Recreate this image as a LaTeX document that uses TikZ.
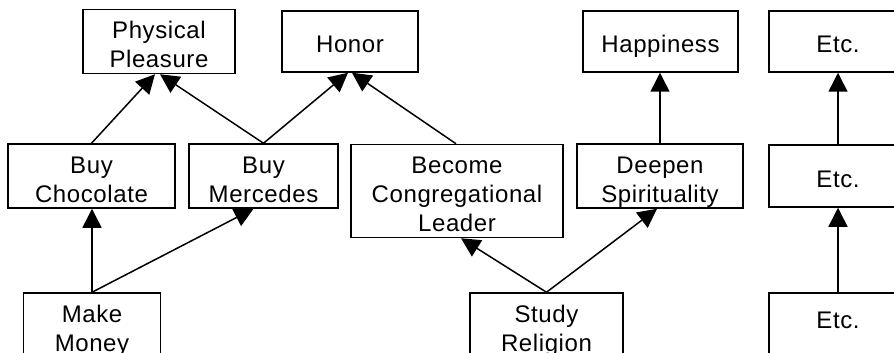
\documentclass[tikz,border=0pt]{standalone}
\usepackage{fontspec}
\setmainfont{Liberation Sans}[LetterSpace=2.5]
\usetikzlibrary{arrows.meta,calc}
\newcommand\tstrut{\rule{0pt}{14.5pt}}
\tikzset{
  goalbox/.style={draw=black, line width=0.75pt, inner sep=0pt, align=center,
    font=\fontsize{12pt}{14.5pt}\selectfont,
    execute at end node={\rule[-3pt]{0pt}{0pt}}},
  arr/.style={draw=black, line width=0.75pt, -{Triangle[length=9.5pt,width=9.5pt]}}
}
\begin{document}
\begin{tikzpicture}[x=0.5pt,y=-0.5pt]
\useasboundingbox (0,0) rectangle (894,353);
\clip (0,0) rectangle (894,353);
% top row
\node[goalbox, minimum width=76pt, minimum height=30.5pt] (PP) at (159,41.5) {\tstrut Physical\\Pleasure};
\node[goalbox, minimum width=68pt, minimum height=30.5pt] (HON) at (350,41.5) {\tstrut Honor};
\node[goalbox, minimum width=77.5pt, minimum height=30.5pt] (HAP) at (660.5,41.5) {\tstrut Happiness};
\node[goalbox, minimum width=69pt, minimum height=30.5pt] (ET) at (838,41.5) {\tstrut Etc.};
% middle row
\node[goalbox, minimum width=83.5pt, minimum height=31pt] (BC) at (91.5,176) {\tstrut Buy\\Chocolate};
\node[goalbox, minimum width=74.5pt, minimum height=31pt] (BM) at (263.5,176) {\tstrut Buy\\Mercedes};
\node[goalbox, minimum width=106pt, minimum height=46pt] (BCL) at (457,191) {\tstrut Become\\Congregational\\Leader};
\node[goalbox, minimum width=83pt, minimum height=31pt] (DS) at (660,176) {\tstrut Deepen\\Spirituality};
\node[goalbox, minimum width=69pt, minimum height=31pt] (EM) at (838,176) {\tstrut Etc.};
% bottom row
\node[goalbox, minimum width=68.5pt, minimum height=32pt] (MM) at (92,325) {\tstrut Make\\Money};
\node[goalbox, minimum width=76.5pt, minimum height=32pt] (SR) at (546.5,325) {\tstrut Study\\Religion};
\node[goalbox, minimum width=69pt, minimum height=31pt,
      execute at end node={\rule[-10.5pt]{0pt}{0pt}}] (EB) at (838,324) {\tstrut Etc.};
% connectors
\draw[arr] (BC.north) -- ($(PP.south)+(-4,0)$);
\draw[arr] (BM.north) -- ($(PP.south)+(1,0)$);
\draw[arr] (BM.north) -- ($(HON.south)+(-2,0)$);
\draw[arr] ($(BCL.north)+(-1,0)$) -- ($(HON.south)+(2,0)$);
\draw[arr] (DS.north) -- (DS.north |- HAP.south);
\draw[arr] (EM.north) -- (ET.south);
\draw[arr] (MM.north) -- (MM.north |- BC.south);
\draw[arr] (MM.north) -- ($(BM.south)+(-10,0)$);
\draw[arr] (SR.north) -- ($(BCL.south)+(4,0)$);
\draw[arr] (SR.north) -- ($(DS.south)+(-3,0)$);
\draw[arr] (EB.north) -- (EM.south);
\end{tikzpicture}
\end{document}
